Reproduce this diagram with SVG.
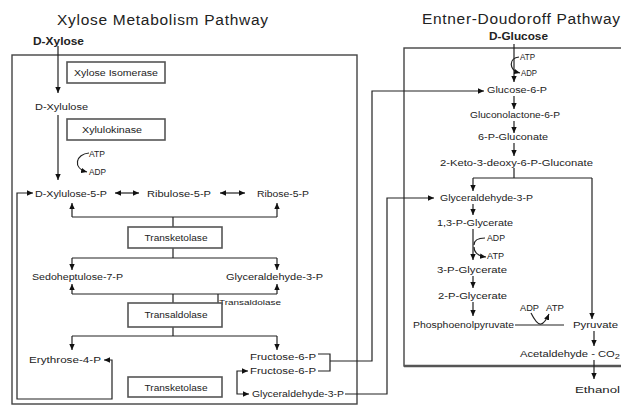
<svg xmlns="http://www.w3.org/2000/svg" width="621" height="407" viewBox="0 0 621 407">
<style>
text{font-family:"Liberation Sans","DejaVu Sans",sans-serif;fill:#222;font-size:8.5px}
.t{font-size:15.5px}
.b{font-size:10.5px;font-weight:bold}
.s{font-size:8px}
.l{fill:none;stroke:#222;stroke-width:1.2}
.box{fill:#fff;stroke:#555;stroke-width:1.6}
.frame{fill:none;stroke:#444;stroke-width:1.4}
.a{marker-end:url(#ah)}
.aa{marker-start:url(#ah);marker-end:url(#ah)}
</style>
<defs>
<marker id="ah" viewBox="0 0 6 6" refX="6" refY="3" markerWidth="6" markerHeight="6" markerUnits="userSpaceOnUse" orient="auto-start-reverse"><path d="M0,0.3 L6,3 L0,5.7 z" fill="#111"/></marker>
</defs>

<g id="frames">
<rect class="frame" x="12" y="55" width="345" height="349"/>
<rect class="frame" x="404" y="48" width="240" height="318"/>
<line x1="404" y1="366" x2="621" y2="366" stroke="#555" stroke-width="2.4"/>
</g>

<g id="titles">
<text class="t" x="57" y="25" textLength="211" lengthAdjust="spacing">Xylose Metabolism Pathway</text>
<text class="t" x="422" y="24" textLength="198" lengthAdjust="spacing">Entner-Doudoroff Pathway</text>
</g>

<g id="connectors">
<line class="l a" x1="58" y1="46" x2="58" y2="93"/>
<line class="l a" x1="58" y1="115" x2="58" y2="180"/>
<path class="l a" d="M89,153 C76,154 72,168 87,172"/>
<line class="l aa" x1="115" y1="193" x2="139" y2="193"/>
<line class="l aa" x1="220" y1="193" x2="245" y2="193"/>
<path class="l" d="M72,217 L277,217 M173,217 L173,227"/>
<line class="l a" x1="72" y1="217" x2="72" y2="203"/>
<line class="l a" x1="277" y1="217" x2="277" y2="203"/>
<path class="l" d="M173,248 L173,258 M72,258 L277,258"/>
<line class="l a" x1="72" y1="258" x2="72" y2="270"/>
<line class="l a" x1="277" y1="258" x2="277" y2="270"/>
<path class="l" d="M72,294 L277,294 M173,294 L173,303 M218,294 L218,305"/>
<line class="l a" x1="72" y1="294" x2="72" y2="284"/>
<line class="l a" x1="277" y1="294" x2="277" y2="284"/>
<path class="l" d="M173,327 L173,336 M72,336 L277,336"/>
<line class="l a" x1="72" y1="336" x2="72" y2="350"/>
<line class="l a" x1="277" y1="336" x2="277" y2="350"/>
<path class="l aa" d="M104,360 L112,360 L112,399 L17,399 L17,193 L33,193"/>
<path class="l aa" d="M248,371 L237,371 L237,394 L249,394"/>
<path class="l" d="M318,354 L330,354 L330,371 L318,371"/>
<path class="l a" d="M330,361 L372,361 L372,91 L484,91"/>
<path class="l a" d="M345,394 L387,394 L387,198 L434,198"/>
<line class="l a" x1="514" y1="44" x2="514" y2="82"/>
<path class="l a" d="M519,57 C509,58 508,70 520,73"/>
<line class="l a" x1="514" y1="96" x2="514" y2="109"/>
<line class="l a" x1="514" y1="121" x2="514" y2="133"/>
<line class="l a" x1="514" y1="143" x2="514" y2="156"/>
<path class="l" d="M514,168 L514,178 M473,178 L592,178"/>
<line class="l a" x1="473" y1="178" x2="473" y2="191"/>
<line class="l a" x1="592" y1="178" x2="592" y2="319"/>
<line class="l a" x1="473" y1="204" x2="473" y2="215"/>
<line class="l a" x1="473" y1="229" x2="473" y2="260"/>
<path class="l" d="M485,238 C477,238 474,241 474,245"/>
<path class="l a" d="M474,247 C474,252 478,256 486,257"/>
<line class="l a" x1="473" y1="276" x2="473" y2="288"/>
<line class="l a" x1="473" y1="302" x2="473" y2="316"/>
<line class="l" x1="515" y1="325" x2="564" y2="325"/>
<path class="l a" d="M531,313 Q537,325 541,324 Q545,323 549,314"/>
<line class="l a" x1="594" y1="331" x2="594" y2="346"/>
<line class="l a" x1="594" y1="360" x2="594" y2="379"/>
</g>

<g id="n-dxylose"><text class="b" x="33" y="45" textLength="51" lengthAdjust="spacingAndGlyphs">D-Xylose</text></g>
<g id="n-isomerase"><rect class="box" x="67" y="62" width="98" height="21"/><text x="116" y="76" text-anchor="middle" textLength="84" lengthAdjust="spacingAndGlyphs">Xylose Isomerase</text></g>
<g id="n-dxylulose"><text x="35" y="110" textLength="53" lengthAdjust="spacingAndGlyphs">D-Xylulose</text></g>
<g id="n-xylulokinase"><rect class="box" x="67" y="119" width="98" height="21"/><text x="112" y="133" text-anchor="middle" textLength="60" lengthAdjust="spacingAndGlyphs">Xylulokinase</text></g>
<g id="n-atp1"><text x="89" y="157" textLength="16" lengthAdjust="spacingAndGlyphs">ATP</text><text x="89" y="175" textLength="17" lengthAdjust="spacingAndGlyphs">ADP</text></g>
<g id="n-x5p"><text x="35" y="197" textLength="72" lengthAdjust="spacingAndGlyphs">D-Xylulose-5-P</text></g>
<g id="n-ru5p"><text x="147" y="197" textLength="64" lengthAdjust="spacingAndGlyphs">Ribulose-5-P</text></g>
<g id="n-r5p"><text x="257" y="197" textLength="52" lengthAdjust="spacingAndGlyphs">Ribose-5-P</text></g>
<g id="n-tk1"><rect class="box" x="128" y="227" width="94" height="21"/><text x="176" y="241" text-anchor="middle" textLength="63" lengthAdjust="spacingAndGlyphs">Transketolase</text></g>
<g id="n-s7p"><text x="32" y="280" textLength="91" lengthAdjust="spacingAndGlyphs">Sedoheptulose-7-P</text></g>
<g id="n-g3p1"><text x="226" y="280" textLength="97" lengthAdjust="spacingAndGlyphs">Glyceraldehyde-3-P</text></g>
<g id="n-talabel"><text class="s" x="219" y="305" textLength="62" lengthAdjust="spacingAndGlyphs">Transaldolase</text></g>
<g id="n-ta"><rect class="box" x="128" y="303" width="94" height="24"/><text x="176" y="318" text-anchor="middle" textLength="63" lengthAdjust="spacingAndGlyphs">Transaldolase</text></g>
<g id="n-e4p"><text x="29" y="363" textLength="72" lengthAdjust="spacingAndGlyphs">Erythrose-4-P</text></g>
<g id="n-f6p1"><text x="250" y="360" textLength="66" lengthAdjust="spacingAndGlyphs">Fructose-6-P</text></g>
<g id="n-f6p2"><text x="250" y="374" textLength="66" lengthAdjust="spacingAndGlyphs">Fructose-6-P</text></g>
<g id="n-g3p2"><text x="252" y="397" textLength="92" lengthAdjust="spacingAndGlyphs">Glyceraldehyde-3-P</text></g>
<g id="n-tk2"><rect class="box" x="128" y="377" width="94" height="20"/><text x="176" y="391" text-anchor="middle" textLength="63" lengthAdjust="spacingAndGlyphs">Transketolase</text></g>

<g id="n-dglucose"><text class="b" x="489" y="40" textLength="59" lengthAdjust="spacingAndGlyphs">D-Glucose</text></g>
<g id="n-atp2"><text x="520" y="60" textLength="15" lengthAdjust="spacingAndGlyphs">ATP</text><text x="521" y="76" textLength="16" lengthAdjust="spacingAndGlyphs">ADP</text></g>
<g id="n-g6p"><text x="487" y="93" textLength="60" lengthAdjust="spacingAndGlyphs">Glucose-6-P</text></g>
<g id="n-glac"><text x="470" y="118" textLength="90" lengthAdjust="spacingAndGlyphs">Gluconolactone-6-P</text></g>
<g id="n-6pg"><text x="478" y="140" textLength="70" lengthAdjust="spacingAndGlyphs">6-P-Gluconate</text></g>
<g id="n-kdpg"><text x="440" y="166" textLength="153" lengthAdjust="spacingAndGlyphs">2-Keto-3-deoxy-6-P-Gluconate</text></g>
<g id="n-g3p3"><text x="440" y="201" textLength="93" lengthAdjust="spacingAndGlyphs">Glyceraldehyde-3-P</text></g>
<g id="n-13pg"><text x="437" y="226" textLength="76" lengthAdjust="spacingAndGlyphs">1,3-P-Glycerate</text></g>
<g id="n-atp3"><text x="487" y="241" textLength="18" lengthAdjust="spacingAndGlyphs">ADP</text><text x="487" y="259" textLength="17" lengthAdjust="spacingAndGlyphs">ATP</text></g>
<g id="n-3pg"><text x="437" y="273" textLength="70" lengthAdjust="spacingAndGlyphs">3-P-Glycerate</text></g>
<g id="n-2pg"><text x="438" y="299" textLength="69" lengthAdjust="spacingAndGlyphs">2-P-Glycerate</text></g>
<g id="n-pep"><text x="413" y="328" textLength="101" lengthAdjust="spacingAndGlyphs">Phosphoenolpyruvate</text></g>
<g id="n-atp4"><text x="520" y="311" textLength="19" lengthAdjust="spacingAndGlyphs">ADP</text><text x="546" y="311" textLength="18" lengthAdjust="spacingAndGlyphs">ATP</text></g>
<g id="n-pyr"><text x="573" y="328" textLength="45" lengthAdjust="spacingAndGlyphs">Pyruvate</text></g>
<g id="n-acet"><text x="520" y="357" font-size="9" textLength="100" lengthAdjust="spacingAndGlyphs">Acetaldehyde - CO<tspan font-size="7" dy="2">2</tspan></text></g>
<g id="n-eth"><text x="575" y="393" font-size="11.5" textLength="45" lengthAdjust="spacingAndGlyphs">Ethanol</text></g>
</svg>
